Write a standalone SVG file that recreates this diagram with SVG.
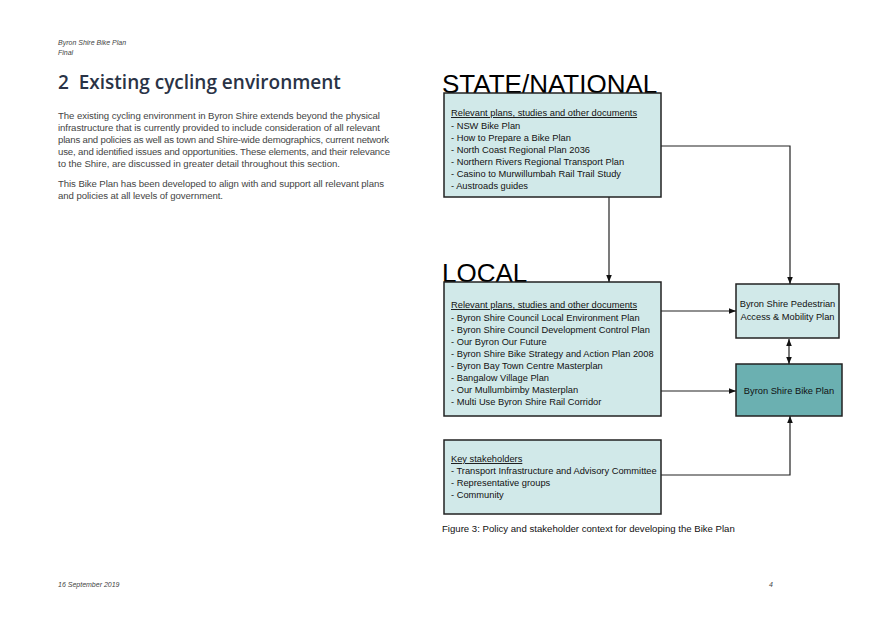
<svg xmlns="http://www.w3.org/2000/svg" width="875" height="619" viewBox="0 0 875 619">
<defs>
<marker id="a" viewBox="0 0 10 10" refX="10" refY="5" markerWidth="6" markerHeight="6" orient="auto-start-reverse"><path d="M0,1 L10,5 L0,9 z" fill="#111"/></marker>
<style>
.b{fill:#d1e9e9;stroke:#222;stroke-width:1.5}
.d{fill:#6bb0b1;stroke:#222;stroke-width:1.5}
.t{font-family:"Liberation Sans",Arial,sans-serif;font-size:9.3px;fill:#111}
.g{font-family:"Liberation Sans",Arial,sans-serif;font-size:9.6px;fill:#444}
.s{font-family:"Liberation Sans",Arial,sans-serif;font-size:7px;font-style:italic;fill:#444}
.f{font-family:"Liberation Sans",Arial,sans-serif;font-size:9.6px;fill:#111}
.c{fill:none;stroke:#222;stroke-width:1.2;marker-end:url(#a)}
.h{font-family:"Liberation Sans",Arial,sans-serif;font-size:26px;fill:#000}
</style>
</defs>
<rect width="875" height="619" fill="#fff"/>
<text x="58" y="45" class="s">Byron Shire Bike Plan</text>
<text x="58" y="55" class="s">Final</text>
<text x="58" y="89" font-family="Open Sans,sans-serif" font-size="19px" font-weight="600" fill="#2a3346" xml:space="preserve">2  Existing cycling environment</text>
<g class="g">
<text x="58" y="119" textLength="322">The existing cycling environment in Byron Shire extends beyond the physical</text>
<text x="58" y="131" textLength="322">infrastructure that is currently provided to include consideration of all relevant</text>
<text x="58" y="143" textLength="331">plans and policies as well as town and Shire-wide demographics, current network</text>
<text x="58" y="155" textLength="332">use, and identified issues and opportunities. These elements, and their relevance</text>
<text x="58" y="167" textLength="282">to the Shire, are discussed in greater detail throughout this section.</text>
<text x="58" y="187" textLength="326">This Bike Plan has been developed to align with and support all relevant plans</text>
<text x="58" y="199" textLength="165">and policies at all levels of government.</text>
</g>
<text x="58" y="587" class="s">16 September 2019</text>
<text x="769" y="587" class="s">4</text>
<text x="442" y="93" class="h">STATE/NATIONAL</text>
<text x="442" y="282" class="h">LOCAL</text>
<g id="state"><rect x="444" y="93" width="217" height="104" class="b"/>
<g class="t"><text x="451" y="116" text-decoration="underline">Relevant plans, studies and other documents</text>
<text x="451" y="129">- NSW Bike Plan</text><text x="451" y="141">- How to Prepare a Bike Plan</text><text x="451" y="153">- North Coast Regional Plan 2036</text><text x="451" y="165">- Northern Rivers Regional Transport Plan</text><text x="451" y="177">- Casino to Murwillumbah Rail Trail Study</text><text x="451" y="189">- Austroads guides</text></g></g>
<g id="local"><rect x="444" y="282" width="217" height="134" class="b"/>
<g class="t"><text x="451" y="308" text-decoration="underline">Relevant plans, studies and other documents</text>
<text x="451" y="321">- Byron Shire Council Local Environment Plan</text><text x="451" y="333">- Byron Shire Council Development Control Plan</text><text x="451" y="345">- Our Byron Our Future</text><text x="451" y="357">- Byron Shire Bike Strategy and Action Plan 2008</text><text x="451" y="369">- Byron Bay Town Centre Masterplan</text><text x="451" y="381">- Bangalow Village Plan</text><text x="451" y="393">- Our Mullumbimby Masterplan</text><text x="451" y="405">- Multi Use Byron Shire Rail Corridor</text></g></g>
<g id="stake"><rect x="444" y="440" width="217" height="74" class="b"/>
<g class="t"><text x="451" y="462" text-decoration="underline">Key stakeholders</text>
<text x="451" y="474">- Transport Infrastructure and Advisory Committee</text><text x="451" y="486">- Representative groups</text><text x="451" y="498">- Community</text></g></g>
<g id="ped"><rect x="736" y="284" width="103" height="54" class="b"/>
<g class="t" text-anchor="middle"><text x="787.5" y="307">Byron Shire Pedestrian</text><text x="787.5" y="320">Access &amp; Mobility Plan</text></g></g>
<g id="bike"><rect x="736" y="364" width="106" height="52" class="d"/>
<text x="789" y="394" class="t" text-anchor="middle">Byron Shire Bike Plan</text></g>
<g id="connectors">
<path class="c" d="M609,197 V282"/>
<path class="c" d="M661,146 H790 V284"/>
<path class="c" d="M661,311 H736"/>
<path class="c" d="M661,391 H736"/>
<path class="c" d="M789,339 V364" marker-start="url(#a)"/>
<path class="c" d="M661,475 H790 V416"/>
</g>
<text x="442" y="532" class="f">Figure 3: Policy and stakeholder context for developing the Bike Plan</text>
</svg>
